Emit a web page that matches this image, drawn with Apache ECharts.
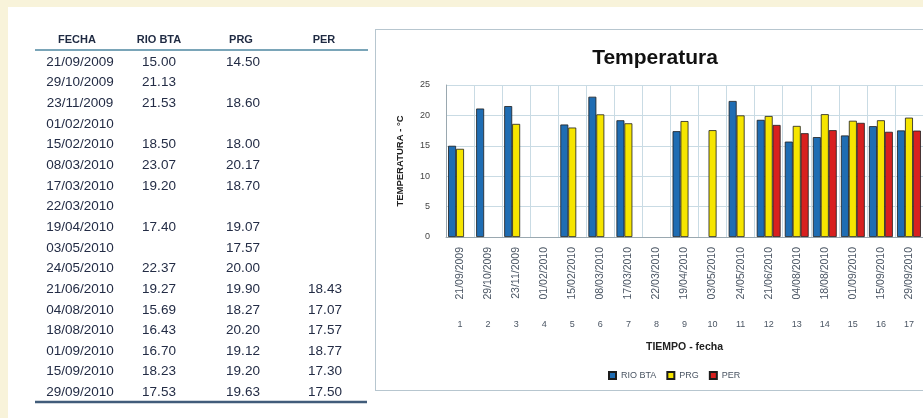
<!DOCTYPE html>
<html><head><meta charset="utf-8">
<script src="https://cdn.jsdelivr.net/npm/echarts@6/dist/echarts.min.js"></script>
<style>
html,body{margin:0;padding:0;background:#f8f3da;width:923px;height:418px;overflow:hidden;}
#panel{position:absolute;left:8px;top:7px;width:915px;height:411px;background:#fff;}
#box{position:absolute;left:375px;top:29px;width:600px;height:360px;border:1px solid #b7c6cf;background:#fff;}
#chart{position:absolute;left:0;top:0;width:923px;height:418px;}
</style></head><body>
<div id="panel"></div><div id="box"></div><div id="chart"></div>
<script>
// ---- data ----
const fechas = ['21/09/2009','29/10/2009','23/11/2009','01/02/2010','15/02/2010','08/03/2010','17/03/2010','22/03/2010','19/04/2010','03/05/2010','24/05/2010','21/06/2010','04/08/2010','18/08/2010','01/09/2010','15/09/2010','29/09/2010'];
const rioBta = [15.00, 21.13, 21.53, null, 18.50, 23.07, 19.20, null, 17.40, null, 22.37, 19.27, 15.69, 16.43, 16.70, 18.23, 17.53];
const prg    = [14.50, null, 18.60, null, 18.00, 20.17, 18.70, null, 19.07, 17.57, 20.00, 19.90, 18.27, 20.20, 19.12, 19.20, 19.63];
const per    = [null, null, null, null, null, null, null, null, null, null, null, 18.43, 17.07, 17.57, 18.77, 17.30, 17.50];
const seriesNames = ['RIO BTA', 'PRG', 'PER'];
const tableHeaders = ['FECHA', 'RIO BTA', 'PRG', 'PER'];
const indices = fechas.map((_, i) => String(i + 1));
const chartTitle = 'Temperatura';
const yName = 'TEMPERATURA - °C';
const xName = 'TIEMPO - fecha';

// ---- table (layout) ----
const colX = [80, 159, 243, 325];
const headX = [77, 159, 241, 324];
const rowY0 = 62, rowH = 20.65;
const txtColor = '#232c45';
const graphics = [];
tableHeaders.forEach((h, c) => graphics.push({
  type: 'text', x: headX[c], y: 40,
  style: { text: h, align: 'center', verticalAlign: 'middle', fontSize: 11, fontWeight: 'bold', fontFamily: 'Liberation Sans', fill: '#1f2a42' }
}));
graphics.push({ type: 'line', shape: { x1: 35, y1: 50, x2: 368, y2: 50 }, style: { stroke: '#7aa5b8', lineWidth: 2 } });
const cols = [rioBta, prg, per];
fechas.forEach((f, i) => {
  const y = rowY0 + i * rowH;
  graphics.push({ type: 'text', x: colX[0], y, style: { text: f, align: 'center', verticalAlign: 'middle', fontSize: 13.5, fontFamily: 'Liberation Sans', fill: txtColor } });
  cols.forEach((arr, c) => {
    if (arr[i] != null) graphics.push({ type: 'text', x: colX[c + 1], y, style: { text: arr[i].toFixed(2), align: 'center', verticalAlign: 'middle', fontSize: 13.5, fontFamily: 'Liberation Sans', fill: txtColor } });
  });
});
graphics.push({ type: 'line', shape: { x1: 35, y1: 402, x2: 367, y2: 402 }, style: { stroke: '#415c7a', lineWidth: 2.5 } });
graphics.push({ type: 'text', x: 655, y: 58, style: { text: chartTitle, align: 'center', verticalAlign: 'middle', fontSize: 21, fontWeight: 'bold', fontFamily: 'Liberation Sans', fill: '#111' } });

const chart = echarts.init(document.getElementById('chart'), null, { renderer: 'canvas' });
const colors = ['#1f6db3', '#f6e500', '#d8201f'];
const mk = (name, data, color) => ({
  name, type: 'bar', data, xAxisIndex: 0,
  barCategoryGap: '15%', barGap: '0%',
  itemStyle: { color, borderColor: '#1d1d1d', borderWidth: 0.8 },
  animation: false
});
chart.setOption({
  animation: false,
  backgroundColor: 'transparent',
  graphic: graphics,
  legend: {
    data: seriesNames, left: 603, top: 366, icon: 'rect', itemWidth: 7, itemHeight: 7, itemGap: 10,
    textStyle: { fontSize: 9, color: '#4a5563', fontFamily: 'Liberation Sans' }
  },
  grid: { left: 446, right: 0, top: 85, bottom: 181, containLabel: false, outerBoundsMode: 'none' },
  xAxis: [{
    type: 'category', data: fechas, position: 'bottom',
    axisLine: { lineStyle: { color: '#9aa8b0' } },
    axisTick: { show: false },
    splitLine: { show: true, lineStyle: { color: '#c9dbe4' } },
    axisLabel: { rotate: 90, interval: 0, fontSize: 10.5, color: '#4a5563', margin: 10, fontFamily: 'Liberation Sans' },
    name: xName, nameLocation: 'middle', nameGap: 105,
    nameTextStyle: { fontSize: 10.5, fontWeight: 'bold', color: '#222', fontFamily: 'Liberation Sans' }
  }, {
    type: 'category', data: indices, position: 'bottom', offset: 75,
    axisLine: { show: false }, axisTick: { show: false },
    axisLabel: { interval: 0, fontSize: 9, color: '#4a5563', margin: 8, fontFamily: 'Liberation Sans' }
  }],
  yAxis: {
    type: 'value', min: 0, max: 25, interval: 5,
    axisLine: { show: true, lineStyle: { color: '#9aa8b0' } },
    axisTick: { show: false },
    splitLine: { lineStyle: { color: '#c9dbe4' } },
    axisLabel: { fontSize: 9, color: '#444', margin: 16, fontFamily: 'Liberation Sans' },
    name: yName, nameLocation: 'middle', nameRotate: 90, nameGap: 41,
    nameTextStyle: { fontSize: 9.5, fontWeight: 'bold', color: '#222', fontFamily: 'Liberation Sans' }
  },
  series: [mk(seriesNames[0], rioBta, colors[0]), mk(seriesNames[1], prg, colors[1]), mk(seriesNames[2], per, colors[2])]
});
</script>
</body></html>
